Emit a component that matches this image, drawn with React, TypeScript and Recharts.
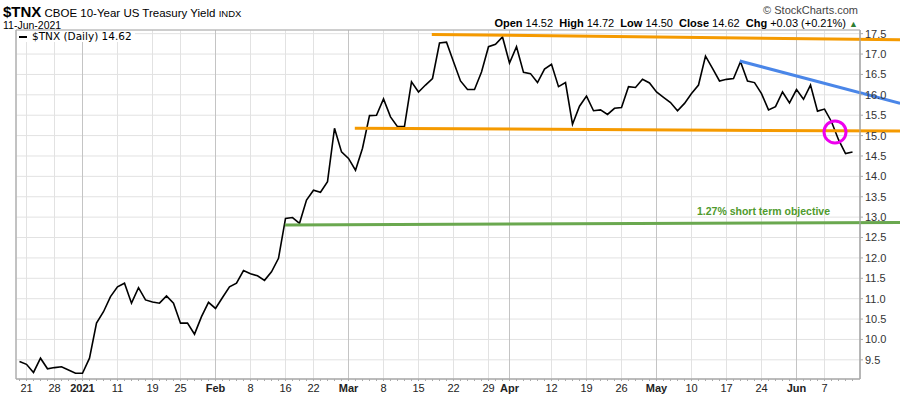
import React from 'react';
import {
  LineChart,
  Line,
  XAxis,
  YAxis,
  CartesianGrid,
  ReferenceLine,
  ReferenceDot,
  ReferenceArea,
} from 'recharts';

// $TNX daily closes, 18-Dec-2020 .. 11-Jun-2021 (one entry per trading day)
const closes = [
  9.46, 9.39, 9.19, 9.54, 9.28, 9.31, 9.33, 9.25, 9.17, 9.17,
  9.54, 10.4, 10.68, 11.05, 11.29, 11.38, 10.89, 11.27, 10.97, 10.92,
  10.89, 11.07, 10.89, 10.4, 10.4, 10.13, 10.56, 10.91, 10.76, 11.03,
  11.29, 11.38, 11.69, 11.61, 11.56, 11.45, 11.66, 11.99, 12.97, 12.99,
  12.85, 13.42, 13.66, 13.61, 13.87, 15.18, 14.6, 14.44, 14.15, 14.69,
  15.49, 15.5, 15.9, 15.46, 15.22, 15.23, 16.32, 16.07, 16.24, 16.4,
  17.27, 17.29, 16.81, 16.34, 16.13, 16.13, 16.56, 17.18, 17.24, 17.42,
  16.78, 17.18, 16.55, 16.52, 16.3, 16.63, 16.75, 16.2, 16.3, 15.28,
  15.72, 15.97, 15.61, 15.63, 15.52, 15.67, 15.69, 16.2, 16.18, 16.38,
  16.29, 16.07, 15.94, 15.81, 15.61, 15.79, 16.03, 16.24, 16.95, 16.65,
  16.34, 16.38, 16.4, 16.81, 16.34, 16.3, 16.03, 15.63, 15.71, 16.07,
  15.8, 16.13, 15.89, 16.24, 15.6, 15.65, 15.34, 14.9, 14.56, 14.6,
];

// x-axis labels (trading-day index -> text)
const tickDays = [1, 5, 9, 14, 19, 23, 28, 33, 38, 42, 47, 52, 57, 62, 67, 70, 76, 81, 86, 91, 96, 101, 106, 111, 115];
const tickLabels = ['21', '28', '2021', '11', '19', '25', 'Feb', '8', '16', '22', 'Mar', '8', '15', '22', '29', 'Apr', '12', '19', '26', 'May', '10', '17', '24', 'Jun', '7'];
const monthDays = [9, 28, 47, 70, 91, 111];

const yTicks = [9.5, 10, 10.5, 11, 11.5, 12, 12.5, 13, 13.5, 14, 14.5, 15, 15.5, 16, 16.5, 17, 17.5];

// annotations drawn on the chart: [day, yield] end points
const resistanceTop = [[58.9, 17.48], [125.8, 17.35]];
const supportLine = [[47.9, 15.18], [125.8, 15.11]];
const objectiveLine = [[37.9, 12.81], [125.8, 12.87]];
const downTrend = [[102.9, 16.83], [125.8, 15.79]];
const breakPoint = [116.5, 15.09];

const X_DOMAIN: [number, number] = [-0.5, 120.07];
const Y_DOMAIN: [number, number] = [9.03, 17.59];

const FONT = '"Liberation Sans", Arial, sans-serif';

const data = closes.map((v, i) => ({ i, v }));

const seg = (s: number[][]) => s.map(([x, y]) => ({ x, y }));

const DayTick = (props: any) => {
  const { x, y, payload } = props;
  const k = tickDays.indexOf(payload.value);
  const label = k >= 0 ? tickLabels[k] : null;
  const bold = monthDays.includes(payload.value);
  return (
    <g>
      <line x1={x} x2={x} y1={y} y2={y + 2} stroke="#aaa" />
      {label && (
        <text
          x={x}
          y={y + 13}
          textAnchor="middle"
          fontSize={11}
          fontFamily={FONT}
          fontWeight={bold ? 'bold' : 'normal'}
          fill="#222"
        >
          {label}
        </text>
      )}
    </g>
  );
};

export default function App() {
  return (
    <div style={{ position: 'absolute', left: 0, top: 0, width: 900, height: 396, background: '#fff', fontFamily: FONT }}>
      <div style={{ position: 'absolute', left: 3, top: 4, lineHeight: '15px', whiteSpace: 'nowrap', color: '#000' }}>
        <span style={{ fontSize: 15, fontWeight: 'bold' }}>$TNX</span>
        <span style={{ fontSize: 11.5 }}> CBOE 10-Year US Treasury Yield </span>
        <span style={{ fontSize: 9.5 }}>INDX</span>
      </div>
      <div style={{ position: 'absolute', left: 3, top: 20, fontSize: 10.5, lineHeight: '11px', color: '#000' }}>11-Jun-2021</div>
      <div style={{ position: 'absolute', right: 42, top: 4, fontSize: 11, lineHeight: '12px', color: '#444' }}>© StockCharts.com</div>
      <div style={{ position: 'absolute', right: 42, top: 17, fontSize: 11, lineHeight: '12px', color: '#000', whiteSpace: 'nowrap' }}>
        <b>Open</b> 14.52&nbsp; <b>High</b> 14.72&nbsp; <b>Low</b> 14.50&nbsp; <b>Close</b> 14.62&nbsp; <b>Chg</b> +0.03 (+0.21%){' '}
        <span style={{ color: '#2e7d32', fontSize: 9 }}>▲</span>
      </div>

      <LineChart width={900} height={396} data={data} margin={{ top: 30, right: 0, bottom: 0, left: 16 }}>
        <XAxis xAxisId="wk" type="number" dataKey="i" domain={X_DOMAIN} ticks={tickDays} allowDataOverflow hide />
        <XAxis xAxisId="mo" type="number" dataKey="i" domain={X_DOMAIN} ticks={monthDays} allowDataOverflow hide />
        <CartesianGrid xAxisId="wk" stroke="#e2e2e2" />
        <CartesianGrid xAxisId="mo" stroke="#c4c4c4" horizontal={false} />
        <XAxis
          type="number"
          dataKey="i"
          domain={X_DOMAIN}
          allowDataOverflow
          ticks={data.map((d) => d.i)}
          interval={0}
          tick={<DayTick />}
          tickLine={false}
          tickSize={0}
          tickMargin={0}
          height={17}
          axisLine={{ stroke: '#aaa' }}
        />
        <YAxis
          orientation="right"
          domain={Y_DOMAIN}
          allowDataOverflow
          ticks={yTicks}
          interval={0}
          width={40}
          tickSize={3}
          tickMargin={2}
          tickFormatter={(v: number) => v.toFixed(1)}
          tick={{ fontSize: 11, fontFamily: FONT, fill: '#333' }}
          axisLine={{ stroke: '#aaa' }}
          tickLine={{ stroke: '#aaa' }}
        />
        <ReferenceArea x1={X_DOMAIN[0]} x2={X_DOMAIN[1]} y1={Y_DOMAIN[0]} y2={Y_DOMAIN[1]} fill="none" stroke="#aaa" />
        <Line type="linear" dataKey="v" stroke="#000" strokeWidth={1.6} dot={false} isAnimationActive={false} />
        <ReferenceLine segment={seg(resistanceTop)} stroke="#f59a00" strokeWidth={3} ifOverflow="visible" />
        <ReferenceLine segment={seg(supportLine)} stroke="#f59a00" strokeWidth={3} ifOverflow="visible" />
        <ReferenceLine segment={seg(objectiveLine)} stroke="#6aa84f" strokeWidth={3} ifOverflow="visible" />
        <ReferenceLine segment={seg(downTrend)} stroke="#4a86e8" strokeWidth={3} ifOverflow="visible" />
        <ReferenceDot
          x={breakPoint[0]}
          y={breakPoint[1]}
          r={11}
          fill="none"
          stroke="#ee00ee"
          strokeWidth={3}
          ifOverflow="visible"
        />
      </LineChart>

      <div style={{ position: 'absolute', left: 17, top: 31, background: '#fff', padding: '0 3px 0 0', fontSize: 10.5, lineHeight: '11px', fontFamily: '"DejaVu Sans", sans-serif', color: '#000', whiteSpace: 'nowrap' }}>
        <span style={{ display: 'inline-block', width: 8, height: 2, background: '#000', verticalAlign: 'middle', margin: '0 5px 0 2px' }} />
        $TNX (Daily) 14.62
      </div>
      <div style={{ position: 'absolute', left: 697, top: 205, fontSize: 10.5, lineHeight: '12px', fontWeight: 'bold', color: '#4f9a2c', whiteSpace: 'nowrap' }}>
        1.27% short term objective
      </div>
    </div>
  );
}
